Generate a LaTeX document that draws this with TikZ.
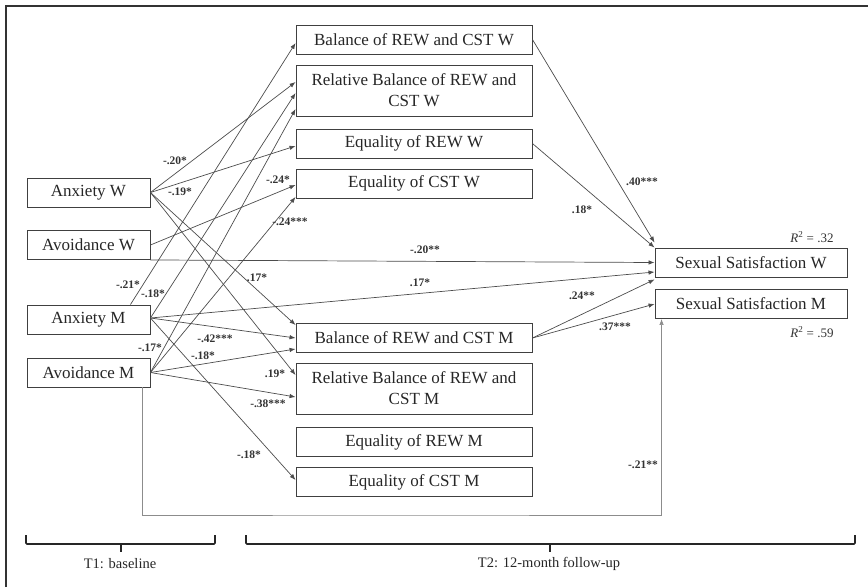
\documentclass[tikz,border=0pt]{standalone}
\usepackage{fontspec}
\setmainfont{Liberation Serif}
\usetikzlibrary{arrows.meta}

\begin{document}
\begin{tikzpicture}[x=1pt, y=-1pt,
  box/.style={draw=black!75, line width=0.9pt, text=black!85, font=\fontsize{17}{21}\selectfont,
    inner sep=0pt, align=center},
  leftbox/.style={box, minimum width=123pt, minimum height=29pt},
  midbox/.style={box, minimum width=236pt, minimum height=29pt},
  rightbox/.style={box, minimum width=192pt, minimum height=29pt},
  path/.style={draw=black!70, line width=0.7pt, -{Latex[length=6pt, width=4.5pt]}},
  coef/.style={font=\fontsize{11.5}{13}\selectfont\bfseries, text=black!80, inner sep=1pt},
  rsq/.style={font=\fontsize{13}{15}\selectfont, text=black!80},
  period/.style={draw=black!85, line width=1.6pt, rounded corners=1pt},
]
\useasboundingbox (0,0) rectangle (868,587);

% frame
\draw[black!80, line width=1.3pt] (6,587) -- (6,6) -- (868,6);

% T1 predictors
\node[leftbox] (anxW) at (88.5,192.5) {Anxiety W};
\node[leftbox] (avoW) at (88.5,245) {Avoidance W};
\node[leftbox] (anxM) at (88.5,319.5) {Anxiety M};
\node[leftbox] (avoM) at (88.5,372.5) {Avoidance M};

% T2 mediators
\node[midbox] (balW) at (414,39.5) {Balance of REW and CST W};
\node[midbox, minimum height=51pt] (relW) at (414,90.5) {Relative Balance of REW and\\CST W};
\node[midbox] (eqrW) at (414,143.5) {Equality of REW W};
\node[midbox] (eqcW) at (414,183.5) {Equality of CST W};
\node[midbox] (balM) at (414,338) {Balance of REW and CST M};
\node[midbox, minimum height=51pt] (relM) at (414,388.5) {Relative Balance of REW and\\CST M};
\node[midbox] (eqrM) at (414,442) {Equality of REW M};
\node[midbox] (eqcM) at (414,482) {Equality of CST M};

% outcomes
\node[rightbox] (ssW) at (751,262.5) {Sexual Satisfaction W};
\node[rightbox] (ssM) at (751,304) {Sexual Satisfaction M};
\node[rsq] (r2W) at (812,237) {\textit{R}\textsuperscript{2} = .32};
\node[rsq] (r2M) at (812,332) {\textit{R}\textsuperscript{2} = .59};

% paths from women's attachment
\draw[path] (anxW.east) -- ([yshift=8.5pt]relW.west);
\draw[path] (anxW.east) -- ([yshift=-2.5pt]eqrW.west);
\draw[path] (anxW.east) -- ([yshift=13pt]balM.west);
\draw[path] (anxW.east) -- ([yshift=13.5pt]relM.west);
\draw[path] (avoW.east) -- ([yshift=-1.5pt]eqcW.west);
\draw[path] (avoW.south east) -- (ssW.west);

% paths from men's attachment
\draw[path] ([xshift=-20pt]anxM.north east) -- ([yshift=-3.5pt]balW.west);
\draw[path] ([yshift=1.5pt]anxM.east) -- ([yshift=-2.5pt]relW.west);
\draw[path] ([yshift=1.5pt]anxM.east) -- ([yshift=-9.5pt]ssW.west);
\draw[path] ([yshift=1.5pt]anxM.east) -- (balM.west);
\draw[path] ([yshift=1.5pt]anxM.east) -- ([yshift=2pt]eqcM.west);
\draw[path] (avoM.east) -- ([yshift=-18.5pt]relW.west);
\draw[path] (avoM.east) -- ([yshift=-13.5pt]eqcW.west);
\draw[path] (avoM.east) -- ([yshift=-11pt]balM.west);
\draw[path] (avoM.east) -- ([yshift=-8.5pt]relM.west);
\coordinate (loop) at (400,515);
\draw[path, draw=black!45] ([xshift=-8pt]avoM.south east) |- (loop) -| ([xshift=7pt]ssM.south west);

% paths to sexual satisfaction
\draw[path] (balW.east) -- ([yshift=5pt]ssW.north west);
\draw[path] (eqrW.east) -- (ssW.north west);
\draw[path] (balM.east) -- ([yshift=-2pt]ssW.south west);
\draw[path] (balM.east) -- (ssM.west);

% coefficients
\path
(175,161) node[coef] (cA) {-.20*}
(180,192) node[coef] (cB) {-.19*}
(278,180) node[coef] (cC) {-.24*}
(290,222) node[coef] (cD) {-.24***}
(128,285) node[coef] (cE) {-.21*}
(153,294) node[coef] (cF) {-.18*}
(257,278) node[coef] (cG) {.17*}
(425,250) node[coef] (cH) {-.20**}
(420,283) node[coef] (cI) {.17*}
(150,348) node[coef] (cJ) {-.17*}
(215,339) node[coef] (cK) {-.42***}
(203,356) node[coef] (cL) {-.18*}
(275,374) node[coef] (cM) {.19*}
(268,404) node[coef] (cN) {-.38***}
(249,455) node[coef] (cO) {-.18*}
(642,182) node[coef] (cP) {.40***}
(582,210) node[coef] (cQ) {.18*}
(582,296) node[coef] (cR) {.24**}
(615,327) node[coef] (cS) {.37***}
(643,465) node[coef] (cT) {-.21**}
;

% measurement waves
\draw[period] (26,535) -- (26,544) -- (215,544) -- (215,535);
\draw[period] (121,544) -- (121,552);
\draw[period] (246,535) -- (246,544) -- (855,544) -- (855,535);
\draw[period] (550,544) -- (550,552);
\node[font=\fontsize{14.5}{16}\selectfont, text=black!85] (t1) at (120,564) {T1: baseline};
\node[font=\fontsize{14.5}{16}\selectfont, text=black!85] (t2) at (549,564) {T2: 12-month follow-up};

\end{tikzpicture}
\end{document}
